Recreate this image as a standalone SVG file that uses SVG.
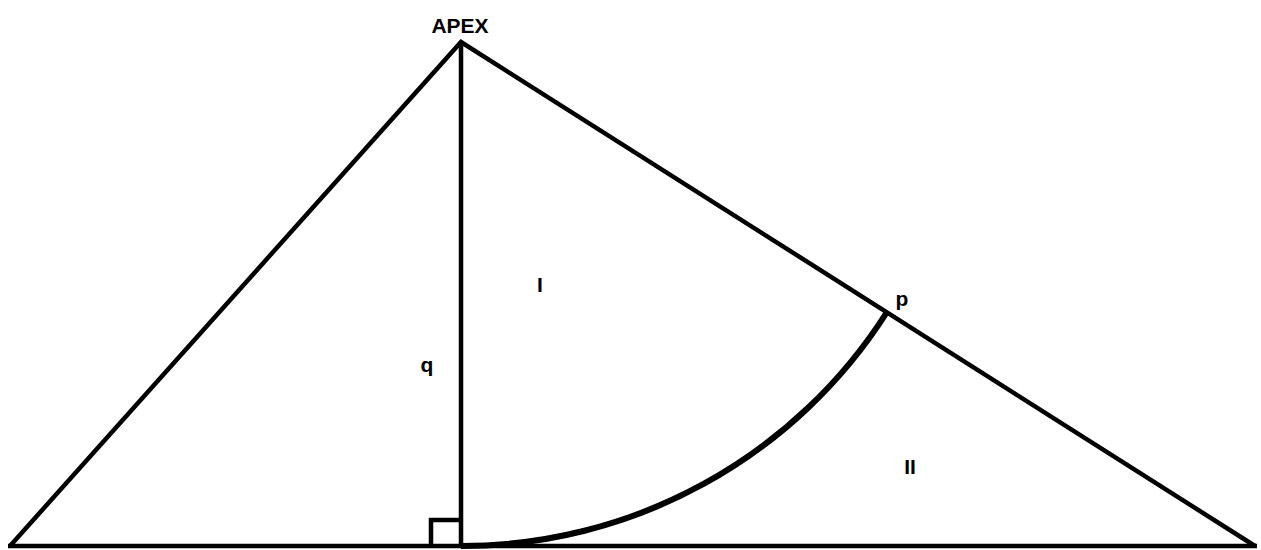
<svg xmlns="http://www.w3.org/2000/svg" width="1261" height="550" viewBox="0 0 1261 550">
<style>
.ln{fill:none;stroke:#000;stroke-width:4.5;stroke-linejoin:miter}
.arc{fill:none;stroke:#000;stroke-width:6}
.lb{font-family:"Liberation Sans",Arial,sans-serif;font-weight:bold;font-size:21px;fill:#000}
</style>
<rect width="1261" height="550" fill="#fff"/>
<g id="connectors">
<polyline class="ln" points="10,546 461,42 1255,546"/>
<line class="ln" x1="8" y1="546" x2="1257" y2="546"/>
<line class="ln" x1="461" y1="42" x2="461" y2="546"/>
<polyline class="ln" points="431,546 431,520 461,520"/>
<path class="arc" d="M461,546 A504,504 0 0 0 887,312"/>
</g>
<g id="apex"><text class="lb" x="460" y="33" text-anchor="middle">APEX</text></g>
<g id="label-I"><text class="lb" x="540" y="292" text-anchor="middle">I</text></g>
<g id="label-II"><text class="lb" x="910" y="474" text-anchor="middle">II</text></g>
<g id="label-q"><text class="lb" x="427" y="372" text-anchor="middle">q</text></g>
<g id="label-p"><text class="lb" x="902" y="306" text-anchor="middle">p</text></g>
</svg>
